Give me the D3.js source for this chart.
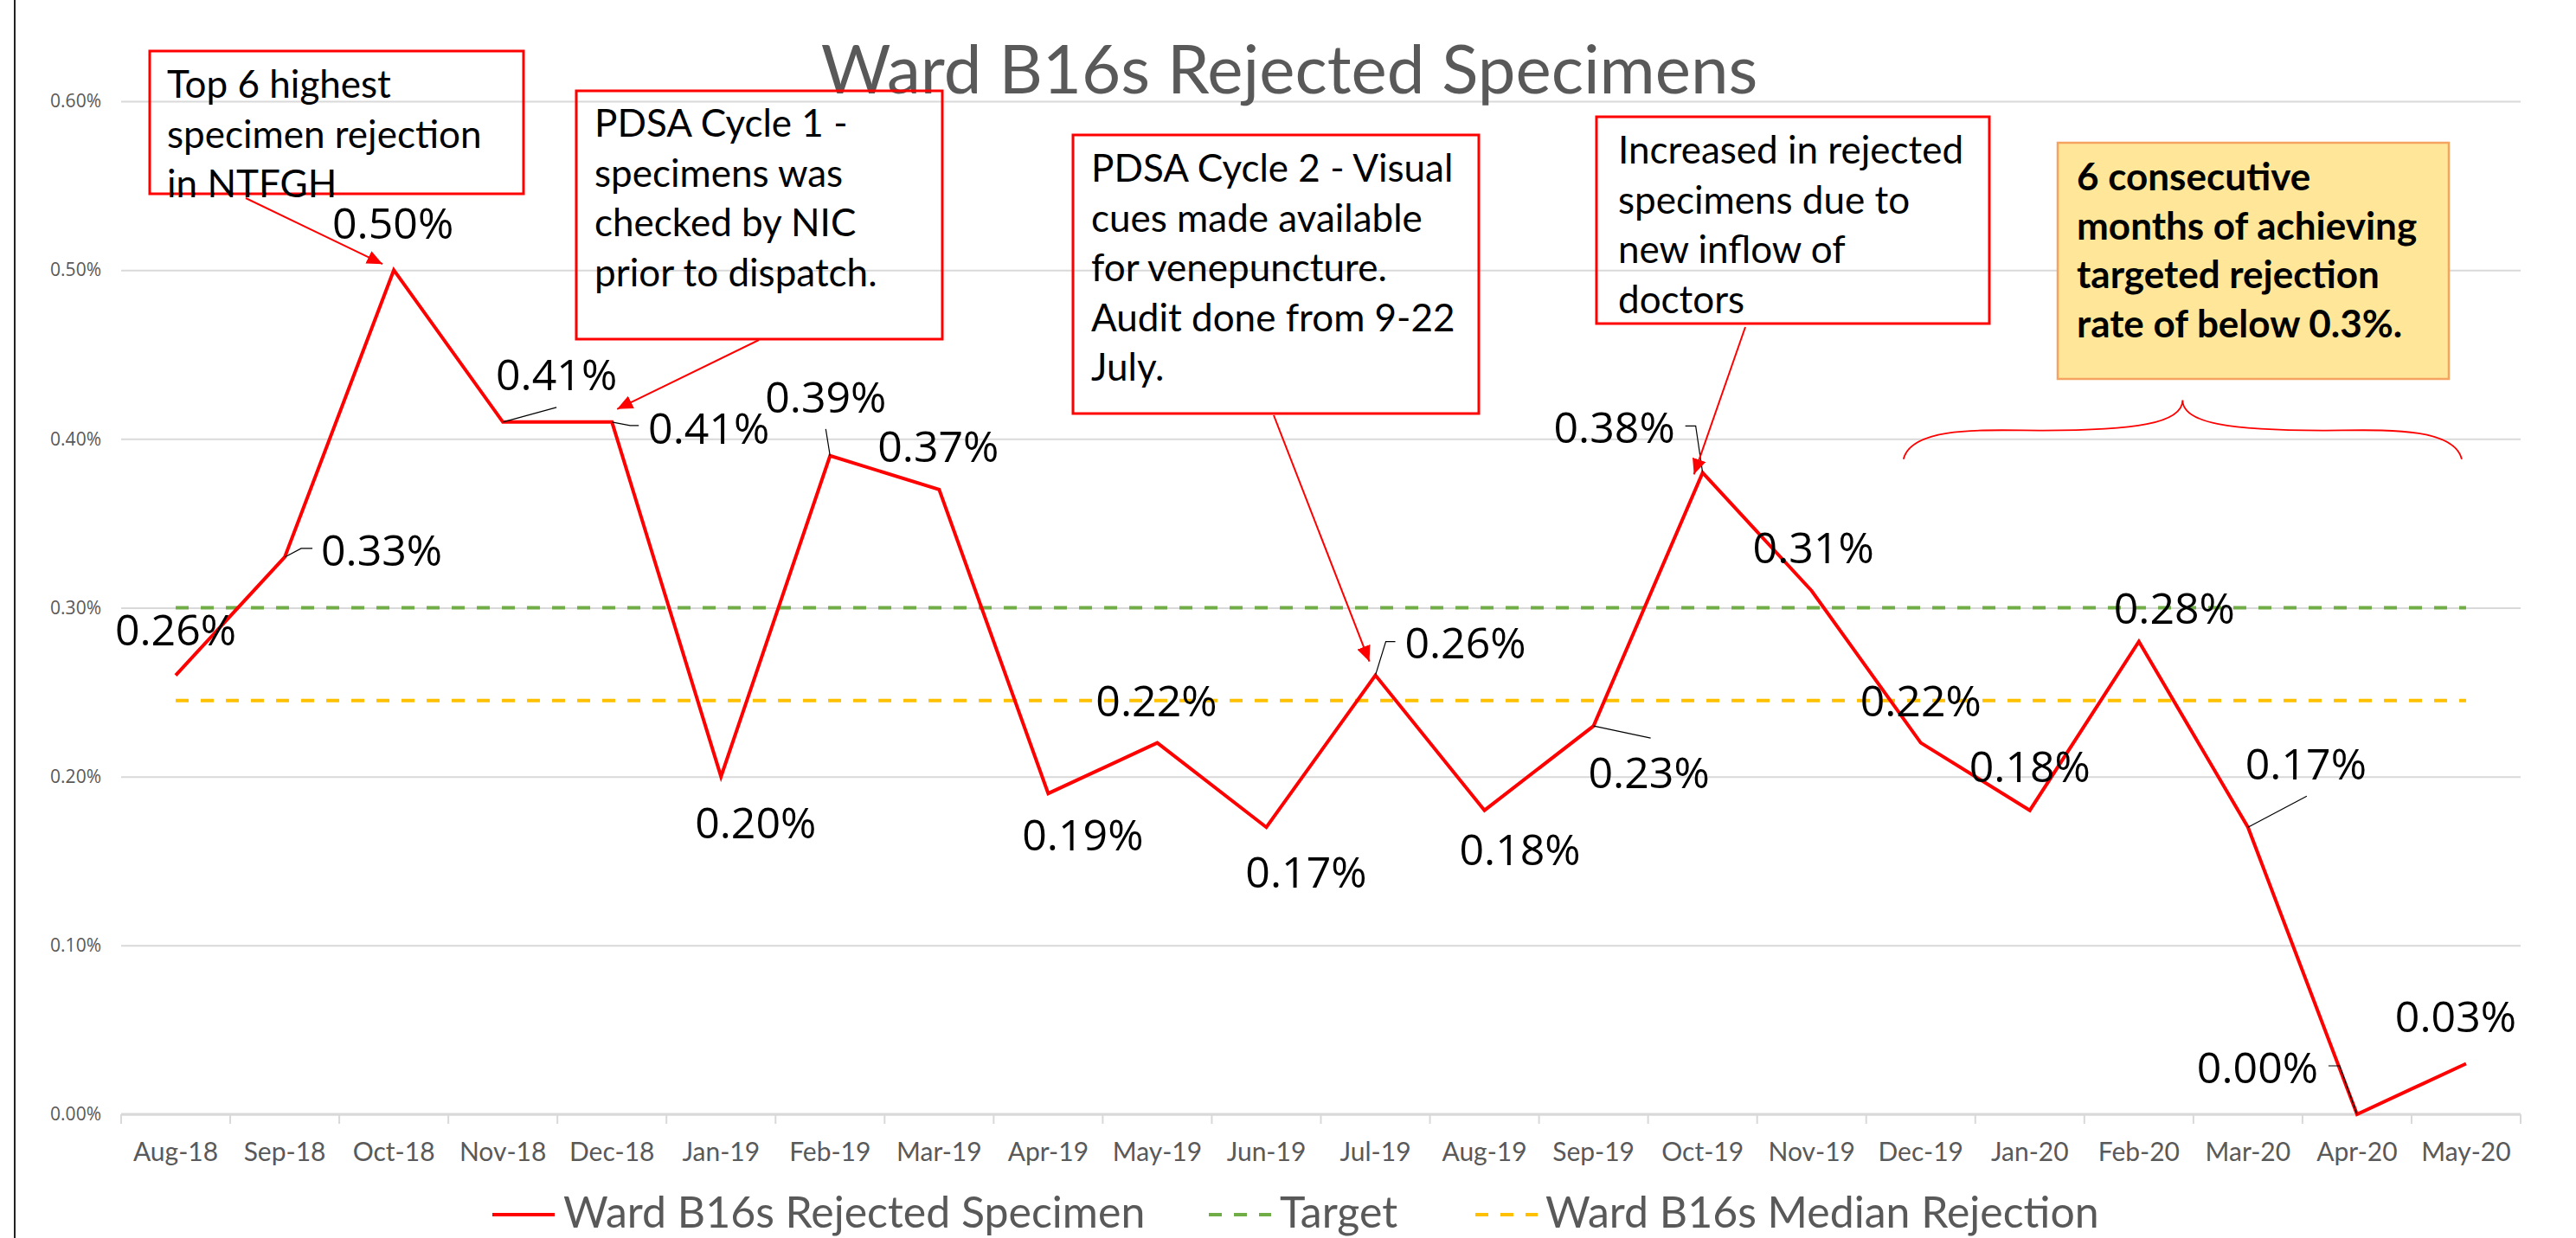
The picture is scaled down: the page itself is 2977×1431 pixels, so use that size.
<!DOCTYPE html>
<html>
<head>
<meta charset="utf-8">
<script src="https://cdn.jsdelivr.net/npm/d3@7"></script>
<style>
  body { margin: 0; background: #fff; }
</style>
</head>
<body>
<div id="chart"></div>
<script>
// ---- data ----
const months = ["Aug-18", "Sep-18", "Oct-18", "Nov-18", "Dec-18", "Jan-19", "Feb-19", "Mar-19",
  "Apr-19", "May-19", "Jun-19", "Jul-19", "Aug-19", "Sep-19", "Oct-19", "Nov-19", "Dec-19",
  "Jan-20", "Feb-20", "Mar-20", "Apr-20", "May-20"];
const rejectedPct = [0.26, 0.33, 0.50, 0.41, 0.41, 0.20, 0.39, 0.37, 0.19, 0.22, 0.17,
  0.26, 0.18, 0.23, 0.38, 0.31, 0.22, 0.18, 0.28, 0.17, 0.00, 0.03];
const targetPct = 0.30;
const medianPct = 0.245;
const yTickValues = [0, 0.1, 0.2, 0.3, 0.4, 0.5, 0.6];
const seriesNames = ["Ward B16s Rejected Specimen", "Target", "Ward B16s Median Rejection"];
const chartTitle = "Ward B16s Rejected Specimens";

// label placement (offset of label centre/baseline from its point) and leader lines
const labelOffsets = [[0, -35], [112, 10], [-1, -36], [62, -37], [112, 25], [40, 71], [-5, -50],
  [-1, -32], [40, 66], [-1, -31], [46, 70], [104, -20], [41, 63], [64, 72], [-102, -34],
  [2, -32], [0, -31], [0, -33], [41, -21], [67, -55], [-115, -36], [-12, -36]];
const leaders = {
  1: [[19, -10], [32, -10]],
  3: [[62, -17]],
  4: [[21, 4], [31, 4]],
  6: [[-5, -31]],
  11: [[12, -39], [23, -39]],
  13: [[66, 14]],
  14: [[-8, -54], [-20, -54]],
  19: [[68, -36]],
  20: [[-20, -56], [-33, -56]]
};

const notes = [
  { box: [173, 59, 432, 165], lines: ["Top 6 highest", "specimen rejection", "in NTFGH"],
    tx: 193, base: 113, from: [284, 229], point: 2, tip: [-13, -7] },
  { box: [666, 105, 423, 287], lines: ["PDSA Cycle 1 -", "specimens was", "checked by NIC", "prior to dispatch."],
    tx: 687, base: 158, from: [877, 393], point: 4, tip: [6, -15] },
  { box: [1240, 156, 469, 322], lines: ["PDSA Cycle 2 - Visual", "cues made available", "for venepuncture.", "Audit done from 9-22", "July."],
    tx: 1261, base: 210, from: [1472, 480], point: 11, tip: [-7, -16] },
  { box: [1845, 135, 454, 239], lines: ["Increased in rejected", "specimens due to", "new inflow of", "doctors"],
    tx: 1870, base: 189, from: [2017, 378], point: 14, tip: [-10, 2] }
];
const highlight = { box: [2378, 165, 452, 273],
  lines: ["6 consecutive", "months of achieving", "targeted rejection", "rate of below 0.3%."], tx: 2400, base: 220 };

// ---- layout ----
const W = 2977, H = 1431;
const plotLeft = 140, plotRight = 2913, plotTop = 117, plotBottom = 1288;
const calibri = "Lato, 'Open Sans', sans-serif";
const segoe = "'Open Sans', 'Noto Sans', sans-serif";

const svg = d3.select("#chart").append("svg")
  .attr("width", W).attr("height", H)
  .style("display", "block");

svg.append("rect").attr("width", W).attr("height", H).attr("fill", "#fff");
svg.append("line").attr("x1", 17).attr("x2", 17).attr("y1", 0).attr("y2", H)
  .attr("stroke", "#222").attr("stroke-width", 2);

const defs = svg.append("defs");
defs.append("marker").attr("id", "arrow")
  .attr("markerUnits", "userSpaceOnUse")
  .attr("markerWidth", 18).attr("markerHeight", 16)
  .attr("refX", 18).attr("refY", 8).attr("orient", "auto")
  .append("path").attr("d", "M0,0 L18,8 L0,16 Z").attr("fill", "#ff0000");

const x = d3.scaleBand().domain(months).range([plotLeft, plotRight]).padding(0);
const xc = m => x(m) + x.bandwidth() / 2;
const y = d3.scaleLinear().domain([0, 0.6]).range([plotBottom, plotTop]);

// gridlines + y labels
const yAxis = svg.append("g").attr("transform", `translate(${plotLeft},0)`)
  .call(d3.axisLeft(y).tickValues(yTickValues).tickSize(-(plotRight - plotLeft)).tickPadding(23)
    .tickFormat(d => d.toFixed(2) + "%"));
yAxis.select(".domain").remove();
yAxis.selectAll(".tick line").attr("stroke", "#d9d9d9").attr("stroke-width", 2);
yAxis.selectAll(".tick text").attr("fill", "#595959").attr("font-family", segoe).attr("font-size", 21);

// x axis labels and category boundary ticks
const xAxis = svg.append("g").attr("transform", `translate(0,${plotBottom})`)
  .call(d3.axisBottom(x).tickSize(0).tickPadding(33));
xAxis.select(".domain").remove();
xAxis.selectAll(".tick text").attr("fill", "#595959").attr("font-family", calibri).attr("font-size", 30);
svg.append("g").selectAll("line").data(months.map(m => x(m)).concat([plotRight])).join("line")
  .attr("x1", d => d).attr("x2", d => d).attr("y1", plotBottom).attr("y2", plotBottom + 11)
  .attr("stroke", "#d9d9d9").attr("stroke-width", 2);
svg.append("line").attr("x1", plotLeft).attr("x2", plotRight).attr("y1", plotBottom).attr("y2", plotBottom)
  .attr("stroke", "#d9d9d9").attr("stroke-width", 3);

// title
svg.append("text").attr("x", 1490).attr("y", 108).attr("text-anchor", "middle")
  .attr("font-family", calibri).attr("font-size", 78).attr("fill", "#595959").text(chartTitle);

// target and median
const refLines = [{ v: targetPct, c: "#70ad47" }, { v: medianPct, c: "#ffc000" }];
svg.append("g").selectAll("line").data(refLines).join("line")
  .attr("x1", xc(months[0])).attr("x2", xc(months[months.length - 1]))
  .attr("y1", d => y(d.v)).attr("y2", d => y(d.v))
  .attr("stroke", d => d.c).attr("stroke-width", 4).attr("stroke-dasharray", "15,14");

// main series
const pts = months.map((m, i) => ({ m, v: rejectedPct[i], i }));
svg.append("path").datum(pts)
  .attr("d", d3.line().x(d => xc(d.m)).y(d => y(d.v)))
  .attr("fill", "none").attr("stroke", "#ff0000").attr("stroke-width", 4)
  .attr("stroke-linejoin", "miter");

// leader lines
Object.entries(leaders).forEach(([i, offs]) => {
  const p = pts[+i];
  const px = xc(p.m), py = y(p.v);
  const path = [[px, py]].concat(offs.map(o => [px + o[0], py + o[1]]));
  svg.append("path").attr("d", d3.line()(path)).attr("fill", "none")
    .attr("stroke", "#000").attr("stroke-width", 1.2);
});

// data labels
svg.append("g").selectAll("text").data(pts).join("text")
  .attr("x", d => xc(d.m) + labelOffsets[d.i][0])
  .attr("y", d => y(d.v) + labelOffsets[d.i][1])
  .attr("text-anchor", "middle")
  .attr("font-family", segoe).attr("font-size", 50).attr("fill", "#000")
  .text(d => d.v.toFixed(2) + "%");

// annotation boxes
notes.forEach(n => {
  const [bx, by, bw, bh] = n.box;
  svg.append("rect").attr("x", bx).attr("y", by).attr("width", bw).attr("height", bh)
    .attr("fill", "none").attr("stroke", "#ff0000").attr("stroke-width", 3);
  svg.append("text").attr("font-family", calibri).attr("font-size", 44).attr("fill", "#000")
    .selectAll("tspan").data(n.lines).join("tspan")
    .attr("x", n.tx).attr("y", (d, k) => n.base + k * 57.5).text(d => d);
  const p = pts[n.point];
  svg.append("line").attr("x1", n.from[0]).attr("y1", n.from[1])
    .attr("x2", xc(p.m) + n.tip[0]).attr("y2", y(p.v) + n.tip[1])
    .attr("stroke", "#ff0000").attr("stroke-width", 2).attr("marker-end", "url(#arrow)");
});

// highlighted note
{
  const [bx, by, bw, bh] = highlight.box;
  svg.append("rect").attr("x", bx).attr("y", by).attr("width", bw).attr("height", bh)
    .attr("fill", "#ffe699").attr("stroke", "#f4a460").attr("stroke-width", 2.5);
  svg.append("text").attr("font-family", calibri).attr("font-size", 44).attr("font-weight", "bold")
    .attr("fill", "#000")
    .selectAll("tspan").data(highlight.lines).join("tspan")
    .attr("x", highlight.tx).attr("y", (d, k) => highlight.base + k * 56.7).text(d => d);
}

// curly brace over Dec-19 .. May-20
{
  const x0 = xc("Dec-19") - 20, x1 = xc("May-20") - 5, xm = (x0 + x1) / 2;
  const yEnd = y(0.388), yMid = y(0.405), yTip = y(0.423);
  const q = (x1 - x0) / 4;
  const d = `M${x0},${yEnd} C${x0 + 10},${yMid - 6} ${x0 + q * 0.6},${yMid} ${x0 + q},${yMid}` +
    ` C${xm - q * 0.35},${yMid} ${xm},${yMid - 8} ${xm},${yTip}` +
    ` C${xm},${yMid - 8} ${xm + q * 0.35},${yMid} ${x1 - q},${yMid}` +
    ` C${x1 - q * 0.6},${yMid} ${x1 - 10},${yMid - 6} ${x1},${yEnd}`;
  svg.append("path").attr("d", d).attr("fill", "none").attr("stroke", "#ff0000").attr("stroke-width", 1.8);
}

// legend
const legendItems = [
  { name: seriesNames[0], c: "#ff0000", dash: null, lx: 569, tx: 651 },
  { name: seriesNames[1], c: "#70ad47", dash: "15,14", lx: 1397, tx: 1479 },
  { name: seriesNames[2], c: "#ffc000", dash: "15,14", lx: 1705, tx: 1786 }
];
const lg = svg.append("g").selectAll("g").data(legendItems).join("g");
lg.append("line").attr("x1", d => d.lx).attr("x2", d => d.lx + 72).attr("y1", 1404).attr("y2", 1404)
  .attr("stroke", d => d.c).attr("stroke-width", 4).attr("stroke-dasharray", d => d.dash);
lg.append("text").attr("x", d => d.tx).attr("y", 1419)
  .attr("font-family", calibri).attr("font-size", 50).attr("fill", "#595959").text(d => d.name);
</script>
</body>
</html>
